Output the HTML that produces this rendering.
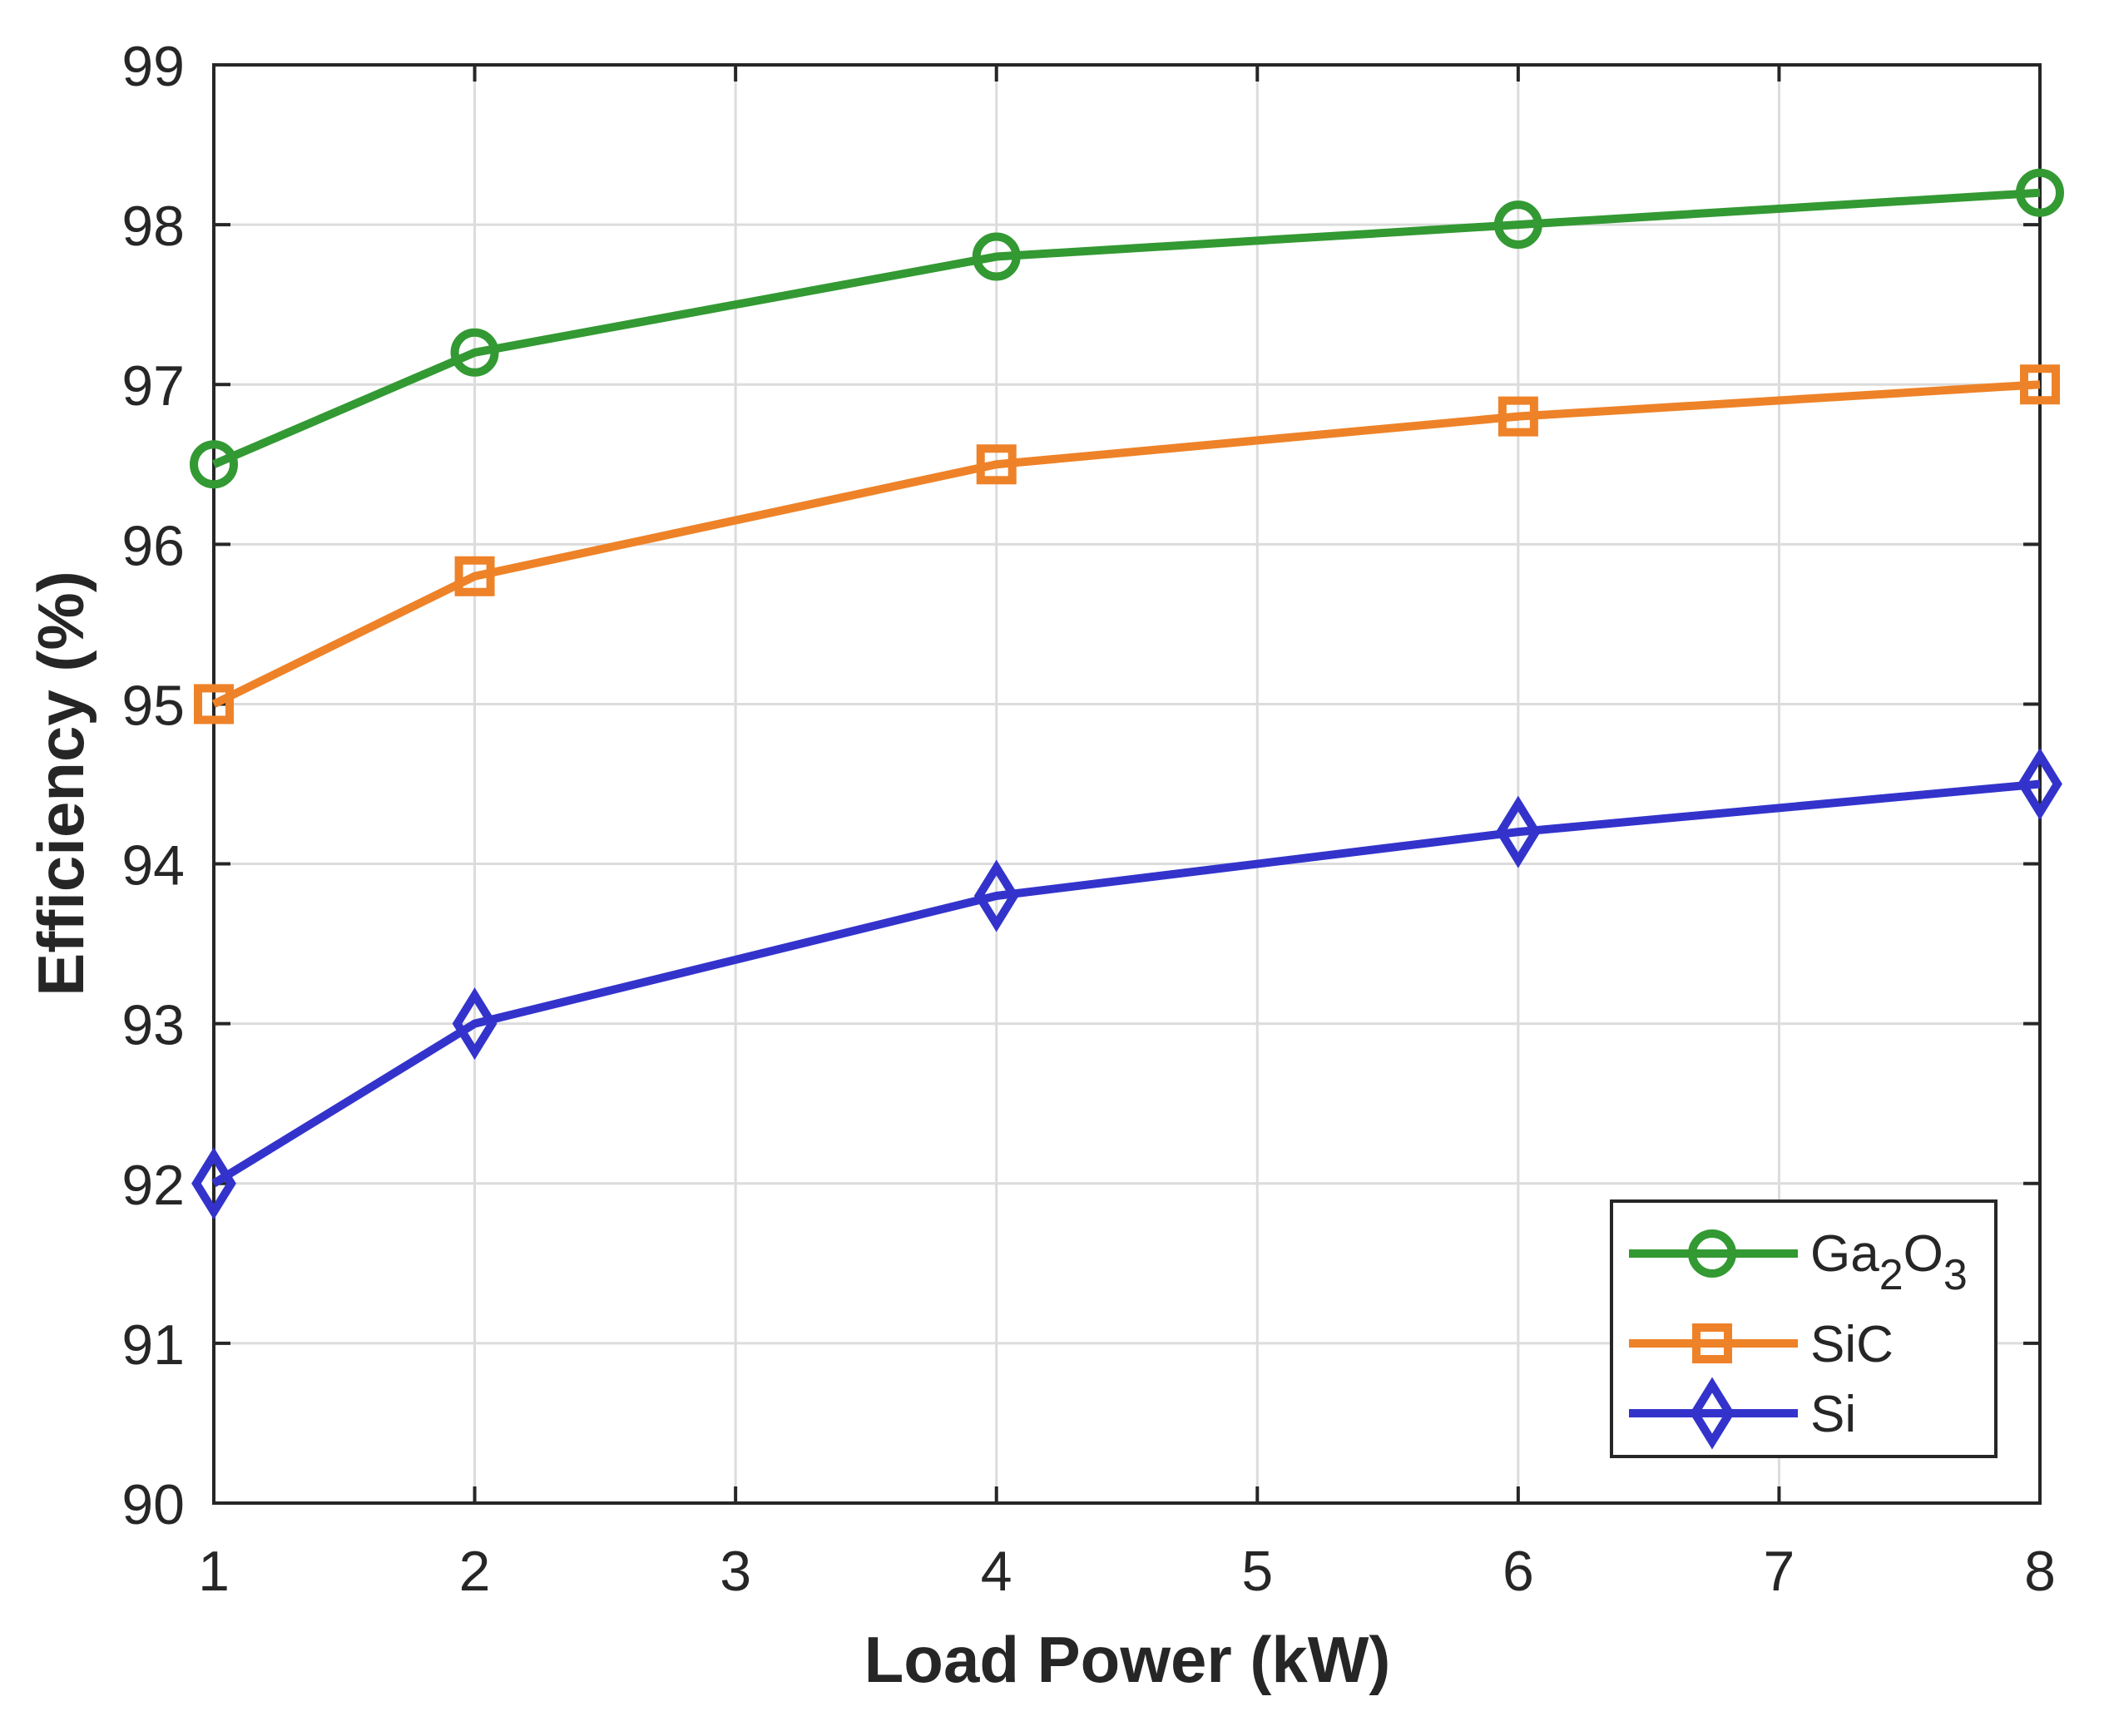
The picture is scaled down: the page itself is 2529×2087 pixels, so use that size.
<!DOCTYPE html>
<html><head><meta charset="utf-8"><style>
html,body{margin:0;padding:0;background:#fff;}
svg{display:block;font-family:"Liberation Sans",Arial,sans-serif;}
</style></head><body>
<svg id="chart" width="2529" height="2087" viewBox="0 0 2529 2087" xmlns="http://www.w3.org/2000/svg">
<rect width="2529" height="2087" fill="#fff"/>
<g id="grid"></g>
<g id="axes"></g>
<g id="series"></g>
<g id="legend"></g>
<text x="1355" y="2022" font-size="78" font-weight="bold" text-anchor="middle" fill="#262626">Load Power (kW)</text>
<text transform="translate(100,942) rotate(-90)" font-size="78" font-weight="bold" text-anchor="middle" fill="#262626">Efficiency (%)</text>
</svg>
<script>
const xValues = [1, 2, 4, 6, 8];
const ga2o3Values = [96.5, 97.2, 97.8, 98.0, 98.2];
const sicValues = [95.0, 95.8, 96.5, 96.8, 97.0];
const siValues = [92.0, 93.0, 93.8, 94.2, 94.5];
const xTicks = [1, 2, 3, 4, 5, 6, 7, 8];
const yTicks = [90, 91, 92, 93, 94, 95, 96, 97, 98, 99];

const L = 257, R = 2452, T = 78, B = 1807;
const xMin = 1, xMax = 8, yMin = 90, yMax = 99;
const NS = 'http://www.w3.org/2000/svg';
function sx(v){ return L + (v - xMin) / (xMax - xMin) * (R - L); }
function sy(v){ return B - (v - yMin) / (yMax - yMin) * (B - T); }
function mk(tag, attrs, parent){
  const e = document.createElementNS(NS, tag);
  for (const k in attrs) e.setAttribute(k, attrs[k]);
  parent.appendChild(e);
  return e;
}
const grid = document.getElementById('grid');
const axes = document.getElementById('axes');
const series = document.getElementById('series');
const legend = document.getElementById('legend');

xTicks.forEach(t => {
  const x = sx(t);
  const g = mk('line', {x1:x, x2:x, y1:T, y2:B, stroke:'#dcdcdc', 'stroke-width':3}, grid);
  
  
  mk('line', {x1:x, x2:x, y1:B, y2:B-20, stroke:'#262626', 'stroke-width':4}, axes);
  mk('line', {x1:x, x2:x, y1:T, y2:T+20, stroke:'#262626', 'stroke-width':4}, axes);
  const tx = mk('text', {x:x, y:1912, 'font-size':68, 'text-anchor':'middle', fill:'#262626'}, axes);
  
  
  tx.textContent = t;
});
yTicks.forEach(t => {
  const y = sy(t);
  const g = mk('line', {x1:L, x2:R, y1:y, y2:y, stroke:'#dcdcdc', 'stroke-width':3}, grid);
  
  
  mk('line', {x1:L, x2:L+20, y1:y, y2:y, stroke:'#262626', 'stroke-width':4}, axes);
  mk('line', {x1:R, x2:R-20, y1:y, y2:y, stroke:'#262626', 'stroke-width':4}, axes);
  const tx = mk('text', {x:222, y:y+25, 'font-size':68, 'text-anchor':'end', fill:'#262626'}, axes);
  
  
  tx.textContent = t;
});
const box = mk('rect', {x:L, y:T, width:R-L, height:B-T, fill:'none', stroke:'#262626', 'stroke-width':4}, axes);



function marker(type, x, y, color, parent){
  let m;
  if (type === 'circle') m = mk('circle', {cx:x, cy:y, r:24, fill:'none', stroke:color, 'stroke-width':10}, parent);
  else if (type === 'square') m = mk('rect', {x:x-19, y:y-19, width:38, height:38, fill:'none', stroke:color, 'stroke-width':10}, parent);
  else m = mk('polygon', {points:`${x},${y-34} ${x+21},${y} ${x},${y+34} ${x-21},${y}`, fill:'none', stroke:color, 'stroke-width':10}, parent);
  return m;
}
const defs = [
  {name:'ga2o3', vals:ga2o3Values, color:'#339933', m:'circle'},
  {name:'sic', vals:sicValues, color:'#ee8228', m:'square'},
  {name:'si', vals:siValues, color:'#3333cc', m:'diamond'}
];
defs.forEach(s => {
  const g = mk('g', {}, series);
  
  
  const pts = xValues.map((x, i) => sx(x) + ',' + sy(s.vals[i])).join(' ');
  const pl = mk('polyline', {points:pts, fill:'none', stroke:s.color, 'stroke-width':10, 'stroke-linejoin':'round'}, g);
  
  
  xValues.forEach((x, i) => {
    const m = marker(s.m, sx(x), sy(s.vals[i]), s.color, g);
    
    
  });
});

const lb = mk('rect', {x:1937, y:1444, width:462, height:307, fill:'#fff', stroke:'#262626', 'stroke-width':4}, legend);


const rowsY = [1507, 1615, 1699];
defs.forEach((s, i) => {
  const y = rowsY[i];
  const g = mk('g', {}, legend);
  
  
  mk('line', {x1:1958, x2:2161, y1:y, y2:y, stroke:s.color, 'stroke-width':10}, g);
  marker(s.m, 2058, y, s.color, g);
});
const t1 = mk('text', {x:2176, y:1528, 'font-size':62, fill:'#262626'}, legend);


t1.innerHTML = 'Ga<tspan dy="22" font-size="52">2</tspan><tspan dy="-22">O</tspan><tspan dy="22" font-size="52">3</tspan>';
const t2 = mk('text', {x:2176, y:1637, 'font-size':62, fill:'#262626'}, legend);


t2.textContent = 'SiC';
const t3 = mk('text', {x:2176, y:1721, 'font-size':62, fill:'#262626'}, legend);


t3.textContent = 'Si';
</script>
</body></html>
